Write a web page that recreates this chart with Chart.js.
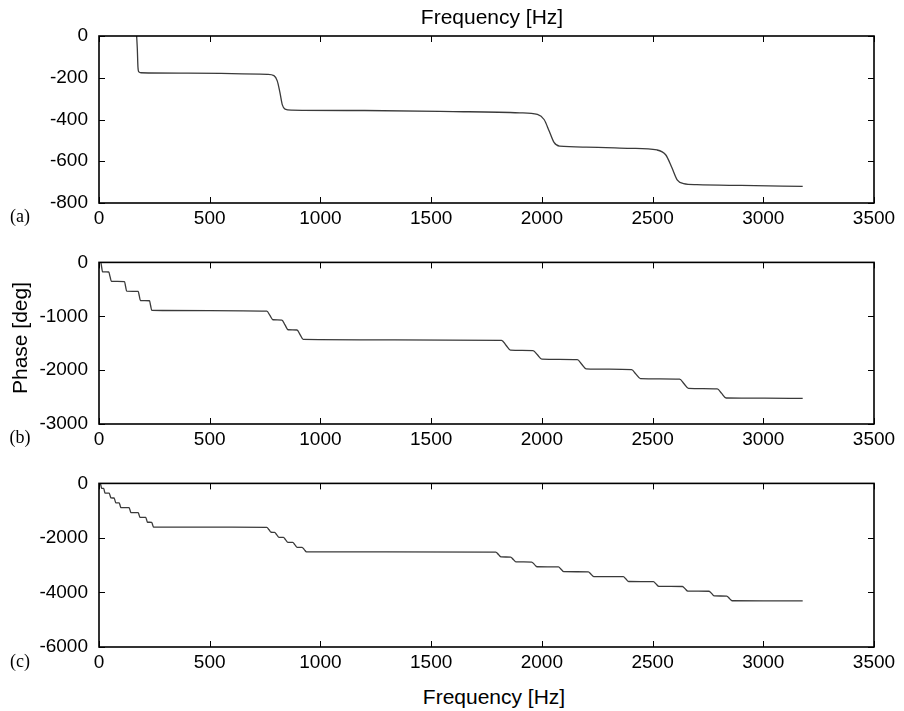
<!DOCTYPE html>
<html>
<head>
<meta charset="utf-8">
<script src="https://cdn.jsdelivr.net/npm/chart.js@4.4.1/dist/chart.umd.min.js"></script>
<style>
  html, body { margin: 0; padding: 0; background: #fff; }
  #wrap { position: relative; width: 904px; height: 711px; overflow: hidden; }
  canvas { position: absolute; left: 0; }
  .lbl { position: absolute; font-family: "Liberation Sans", Arial, sans-serif; font-size: 21px; color: #000;
         line-height: 1; white-space: nowrap; transform: translate(-50%, -50%); }
  .tag { position: absolute; font-family: "Liberation Serif", "Times New Roman", serif; font-size: 18px; color: #000;
         line-height: 1; transform: translate(-50%, -50%); }
</style>
</head>
<body>
<div id="wrap">
  <canvas id="chartA" width="904" height="240" style="top:0"></canvas>
  <canvas id="chartB" width="904" height="221" style="top:240px"></canvas>
  <canvas id="chartC" width="904" height="223" style="top:461px"></canvas>
  <div class="lbl" style="left:492px; top:16px">Frequency [Hz]</div>
  <div class="lbl" style="left:19px; top:338px; transform: translate(-50%, -50%) rotate(-90deg)">Phase [deg]</div>
  <div class="lbl" style="left:494px; top:696px">Frequency [Hz]</div>
  <div class="tag" style="left:20px; top:216px">(a)</div>
  <div class="tag" style="left:20px; top:437px">(b)</div>
  <div class="tag" style="left:20px; top:661px">(c)</div>
</div>
<script>
// x ticks shared by all three panels
const freqTicks = [0, 500, 1000, 1500, 2000, 2500, 3000, 3500];

// (a)
const freqA = [170, 173, 176, 180, 190, 400, 600, 760, 790, 805, 817, 828, 840, 870, 1200, 1600,
  1900, 1980, 2010, 2033, 2055, 2080, 2200, 2400, 2520, 2560, 2587, 2612, 2640, 2700, 2900, 3178];
const phaseA = [0, -60, -150, -172, -176, -178, -180, -184, -190, -215, -270, -330, -350, -355, -357, -362,
  -368, -376, -400, -455, -510, -528, -532, -538, -546, -570, -630, -690, -707, -712, -716, -720];

// (b)
const freqB = [0, 8, 12, 16,
  44, 50, 56,
  115, 120, 125,
  177, 182, 187,
  228, 233, 238,
  500,
  758, 772, 786,
  826, 840, 854,
  894, 908, 922,
  1300,
  1818, 1838, 1858,
  1960, 1980, 2000,
  2160, 2180, 2200,
  2405, 2425, 2445,
  2622, 2642, 2662,
  2792, 2812, 2832,
  3000, 3178];
const phaseB = [0, 0, -88, -175,
  -178, -265, -352,
  -356, -445, -535,
  -538, -622, -708,
  -712, -800, -888,
  -895,
  -905, -985, -1065,
  -1070, -1160, -1250,
  -1255, -1340, -1430,
  -1438,
  -1447, -1537, -1627,
  -1636, -1716, -1796,
  -1806, -1890, -1976,
  -1990, -2074, -2157,
  -2168, -2252, -2337,
  -2348, -2432, -2517,
  -2521, -2524];

// (c)
const freqC = [0, 6, 9, 12,
  21, 24, 27,
  46, 50, 54,
  68, 72, 76,
  91, 95, 99,
  136, 140, 144,
  177, 181, 185,
  211, 215, 219,
  238, 242, 246,
  600,
  758, 768, 778,
  793, 803, 813,
  833, 843, 853,
  875, 885, 895,
  917, 927, 937,
  1300,
  1792, 1804, 1816,
  1859, 1871, 1883,
  1954, 1966, 1978,
  2075, 2087, 2099,
  2210, 2222, 2234,
  2368, 2380, 2392,
  2504, 2516, 2528,
  2635, 2647, 2659,
  2755, 2767, 2779,
  2835, 2847, 2859,
  3000, 3178];
const phaseC = [0, 0, -89, -178,
  -180, -267, -356,
  -358, -445, -534,
  -536, -623, -712,
  -714, -801, -890,
  -892, -979, -1068,
  -1070, -1157, -1246,
  -1248, -1336, -1424,
  -1427, -1514, -1600,
  -1606,
  -1612, -1702, -1792,
  -1796, -1886, -1976,
  -1980, -2070, -2160,
  -2164, -2254, -2344,
  -2348, -2428, -2508,
  -2512,
  -2518, -2608, -2698,
  -2702, -2790, -2878,
  -2884, -2970, -3056,
  -3062, -3150, -3238,
  -3244, -3330, -3416,
  -3422, -3510, -3598,
  -3604, -3690, -3776,
  -3782, -3866, -3950,
  -3956, -4042, -4128,
  -4132, -4218, -4304,
  -4308, -4312];

const ticksA = [0, -200, -400, -600, -800];
const ticksB = [0, -1000, -2000, -3000];
const ticksC = [0, -2000, -4000, -6000];

const tickFont = { family: '"Liberation Sans", Arial, sans-serif', size: 19 };

// box around the plot with short inward ticks on all four sides
const frame = {
  id: 'frame',
  afterDraw(chart) {
    const { ctx, chartArea: a, scales } = chart;
    ctx.save();
    ctx.strokeStyle = '#000';
    ctx.lineWidth = 1;
    ctx.beginPath();
    scales.x.ticks.forEach(t => {
      const px = Math.round(scales.x.getPixelForValue(t.value)) + 0.5;
      ctx.moveTo(px, a.top); ctx.lineTo(px, a.top + 6);
      ctx.moveTo(px, a.bottom); ctx.lineTo(px, a.bottom - 6);
    });
    scales.y.ticks.forEach(t => {
      const py = Math.round(scales.y.getPixelForValue(t.value)) + 0.5;
      ctx.moveTo(a.left, py); ctx.lineTo(a.left + 6, py);
      ctx.moveTo(a.right, py); ctx.lineTo(a.right - 6, py);
    });
    ctx.stroke();
    ctx.lineWidth = 1.6;
    ctx.strokeRect(a.left, a.top, a.right - a.left, a.bottom - a.top);
    ctx.restore();
  }
};

function makePanel(id, freqs, phases, yTicks, padTop) {
  const yMin = yTicks[yTicks.length - 1];
  return new Chart(document.getElementById(id), {
    type: 'line',
    data: {
      datasets: [{
        data: freqs.map((f, i) => ({ x: f, y: phases[i] })),
        borderColor: '#3a3a3a',
        borderWidth: 1.3,
        pointRadius: 0,
        cubicInterpolationMode: 'monotone',
        fill: false
      }]
    },
    options: {
      responsive: false,
      animation: false,
      events: [],
      layout: { padding: { top: padTop, right: 30, bottom: 0, left: 0 } },
      plugins: { legend: { display: false }, tooltip: { enabled: false } },
      scales: {
        x: {
          type: 'linear',
          min: freqTicks[0],
          max: freqTicks[freqTicks.length - 1],
          afterBuildTicks: s => { s.ticks = freqTicks.map(v => ({ value: v })); },
          afterFit: s => { s.height = 37; },
          grid: { display: false, drawTicks: false },
          border: { display: false },
          ticks: { color: '#000', font: tickFont, padding: 4, maxRotation: 0, autoSkip: false,
                   callback: v => String(v) }
        },
        y: {
          type: 'linear',
          min: yMin,
          max: yTicks[0],
          afterBuildTicks: s => { s.ticks = yTicks.map(v => ({ value: v })); },
          afterFit: s => { s.width = 99; },
          grid: { display: false, drawTicks: false },
          border: { display: false },
          ticks: { color: '#000', font: tickFont, padding: 11, autoSkip: false,
                   callback: v => String(v) }
        }
      }
    },
    plugins: [frame]
  });
}

makePanel('chartA', freqA, phaseA, ticksA, 36);
makePanel('chartB', freqB, phaseB, ticksB, 18);
makePanel('chartC', freqC, phaseC, ticksC, 18);
</script>
</body>
</html>
